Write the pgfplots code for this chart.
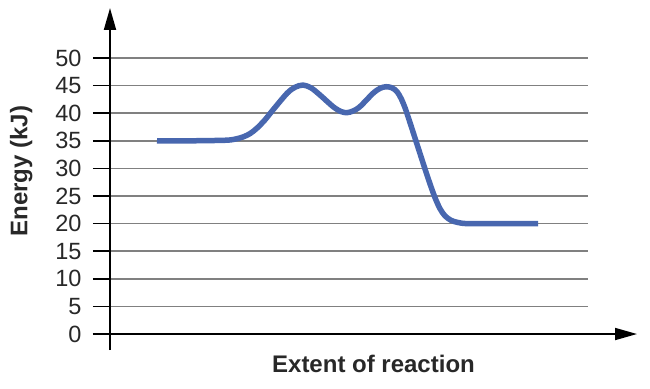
\documentclass[border=0pt]{standalone}
\usepackage{fontspec}
\setmainfont{Liberation Sans}
\usepackage{pgfplots}
\pgfplotsset{compat=1.18}
\usetikzlibrary{arrows.meta}
\definecolor{curveblue}{RGB}{72,103,175}
\definecolor{txt}{RGB}{40,40,40}
\begin{document}
\begin{tikzpicture}
\begin{axis}[
  x=1pt, y=5.52pt,
  xmin=110, xmax=588, ymin=0, ymax=50,
  axis line style={draw=none},
  xtick=\empty,
  ytick={0,5,...,50},
  ytick pos=left,
  ymajorgrids,
  grid style={draw=gray, line width=1.6pt},
  tick align=outside,
  major tick length=17pt,
  tick style={black, line width=1.6pt},
  yticklabel={\fontsize{23.5}{26}\selectfont\pgfmathprintnumber[assume math mode=true]{\tick}},
  yticklabel style={text=txt, xshift=-8pt},
  clip=false,
]
\addplot[curveblue, line width=5.5pt, smooth, tension=0.5] coordinates {
(157,35) (190,35) (225,35.1) (235,35.3) (243,35.7) (250,36.3) (257,37.3) (265,38.8) (273,40.6) (287,43.6) (295,44.7) (303,45.1) (311,44.6) (320,43.3) (333,41.2) (341,40.3) (347,40.1) (353,40.4) (360,41.2) (373,43.6) (380,44.5) (386,44.8) (392,44.6) (397,43.9) (401,42.7) (405,41.0) (410,38.3) (415,35.5) (420,32.7) (425,29.9) (430,27.2) (435,24.7) (440,22.7) (445,21.4) (451,20.6) (458,20.2) (467,20.0) (490,20) (538,20)
};
\draw[black, line width=1.8pt, -{Triangle[length=22pt,width=12pt]}] (axis cs:93,0) -- (axis cs:637,0);
\draw[black, line width=1.8pt, -{Triangle[length=22pt,width=12pt]}] (axis cs:110,-2.9) -- (axis cs:110,59.06);
\node[anchor=base, font=\fontsize{24}{24}\selectfont\bfseries, text=txt] at (axis cs:373.5,-7.0) {Extent of reaction};
\node[anchor=base, rotate=90, font=\fontsize{24}{24}\selectfont\bfseries, text=txt] at (axis cs:27.5,29.5) {Energy (kJ)};
\path (axis cs:0,-9.96) rectangle (axis cs:650,60.51);
\end{axis}
\end{tikzpicture}
\end{document}
